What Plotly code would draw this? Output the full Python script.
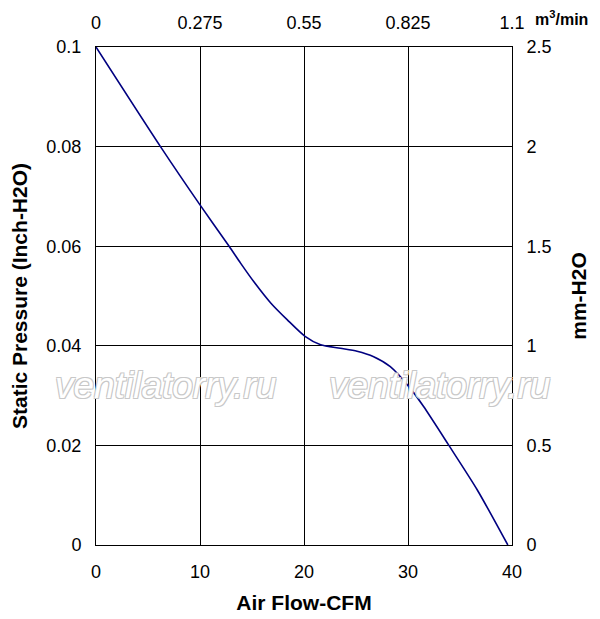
import plotly.graph_objects as go

# Fan P-Q curve
cfm = [0, 6.2, 10, 12.8, 13.9, 15.2, 16.8, 18.4, 20.1, 21.6, 23.5, 25.1, 26.7, 28.3,
       30.2, 31.5, 33.9, 36.65, 39.6]
pressure_inch = [0.1, 0.08, 0.0683, 0.06, 0.0566, 0.0528, 0.0486, 0.0452, 0.0419, 0.0402,
                 0.0395, 0.0389, 0.0378, 0.0358, 0.0315, 0.0278, 0.0201, 0.0111, 0]

top_ticks = [0, 0.275, 0.55, 0.825, 1.1]
top_labels = ["0", "0.275", "0.55", "0.825", "1.1"]
right_ticks = [0, 0.5, 1, 1.5, 2, 2.5]
right_labels = ["0", "0.5", "1", "1.5", "2", "2.5"]

font = "Arial, Liberation Sans, sans-serif"

fig = go.Figure()
fig.add_trace(go.Scatter(
    x=cfm, y=pressure_inch, mode="lines",
    line=dict(color="#000080", width=1.6, shape="spline", smoothing=0.7),
    showlegend=False, hoverinfo="skip",
))
# invisible trace so the secondary axes are drawn
fig.add_trace(go.Scatter(
    x=[0, 1.1], y=[0, 2.5], xaxis="x2", yaxis="y2", mode="markers",
    marker=dict(opacity=0), showlegend=False, hoverinfo="skip",
))

axis_common = dict(
    showline=True, linecolor="black", linewidth=1, automargin=False,
    ticks="outside", ticklen=10, tickcolor="rgba(0,0,0,0)",
    tickfont=dict(family=font, size=18, color="black"),
    zeroline=False,
)
title_font = dict(family=font, size=21, color="black")

fig.update_layout(
    width=592, height=611,
    margin=dict(l=88, r=88, t=39, b=74),
    paper_bgcolor="white", plot_bgcolor="white",
    xaxis=dict(range=[0, 40], dtick=10, showgrid=True, gridcolor="black", gridwidth=1,
               mirror=True,
               title=dict(text="<b>Air Flow-CFM</b>", font=title_font, standoff=14),
               **axis_common),
    yaxis=dict(range=[0, 0.1], tickvals=[0, 0.02, 0.04, 0.06, 0.08, 0.1],
               ticktext=["0", "0.02", "0.04", "0.06", "0.08", "0.1"],
               showgrid=True, gridcolor="black", gridwidth=1, mirror=True,
               title=dict(text="<b>Static Pressure (Inch-H2O)</b>", font=title_font, standoff=20),
               **axis_common),
    xaxis2=dict(overlaying="x", side="top", range=[0, 1.1], tickvals=top_ticks,
                ticktext=top_labels, showgrid=False, **axis_common),
    yaxis2=dict(overlaying="y", side="right", range=[0, 2.5], tickvals=right_ticks,
                ticktext=right_labels, showgrid=False,
                title=dict(text="<b>mm-H2O</b>", font=title_font, standoff=20),
                **axis_common),
)

fig.add_annotation(
    text="<b>m<sup>3</sup>/min</b>", xref="paper", yref="paper", x=1.0, y=1.0,
    xshift=21, yshift=29, showarrow=False, xanchor="left", yanchor="middle",
    font=dict(family=font, size=16, color="black"),
)

wm_font = dict(family=font, size=37, color="white", style="italic",
               shadow="1px 1px 0 #c8c8c8, -1px -1px 0 #c8c8c8, 1px -1px 0 #c8c8c8, -1px 1px 0 #c8c8c8")
for wx in [6.7, 33.0]:
    fig.add_annotation(text="ventilatorry.ru", x=wx, y=0.032, xref="x", yref="y",
                       showarrow=False, font=wm_font)

fig.write_html("out.html")
